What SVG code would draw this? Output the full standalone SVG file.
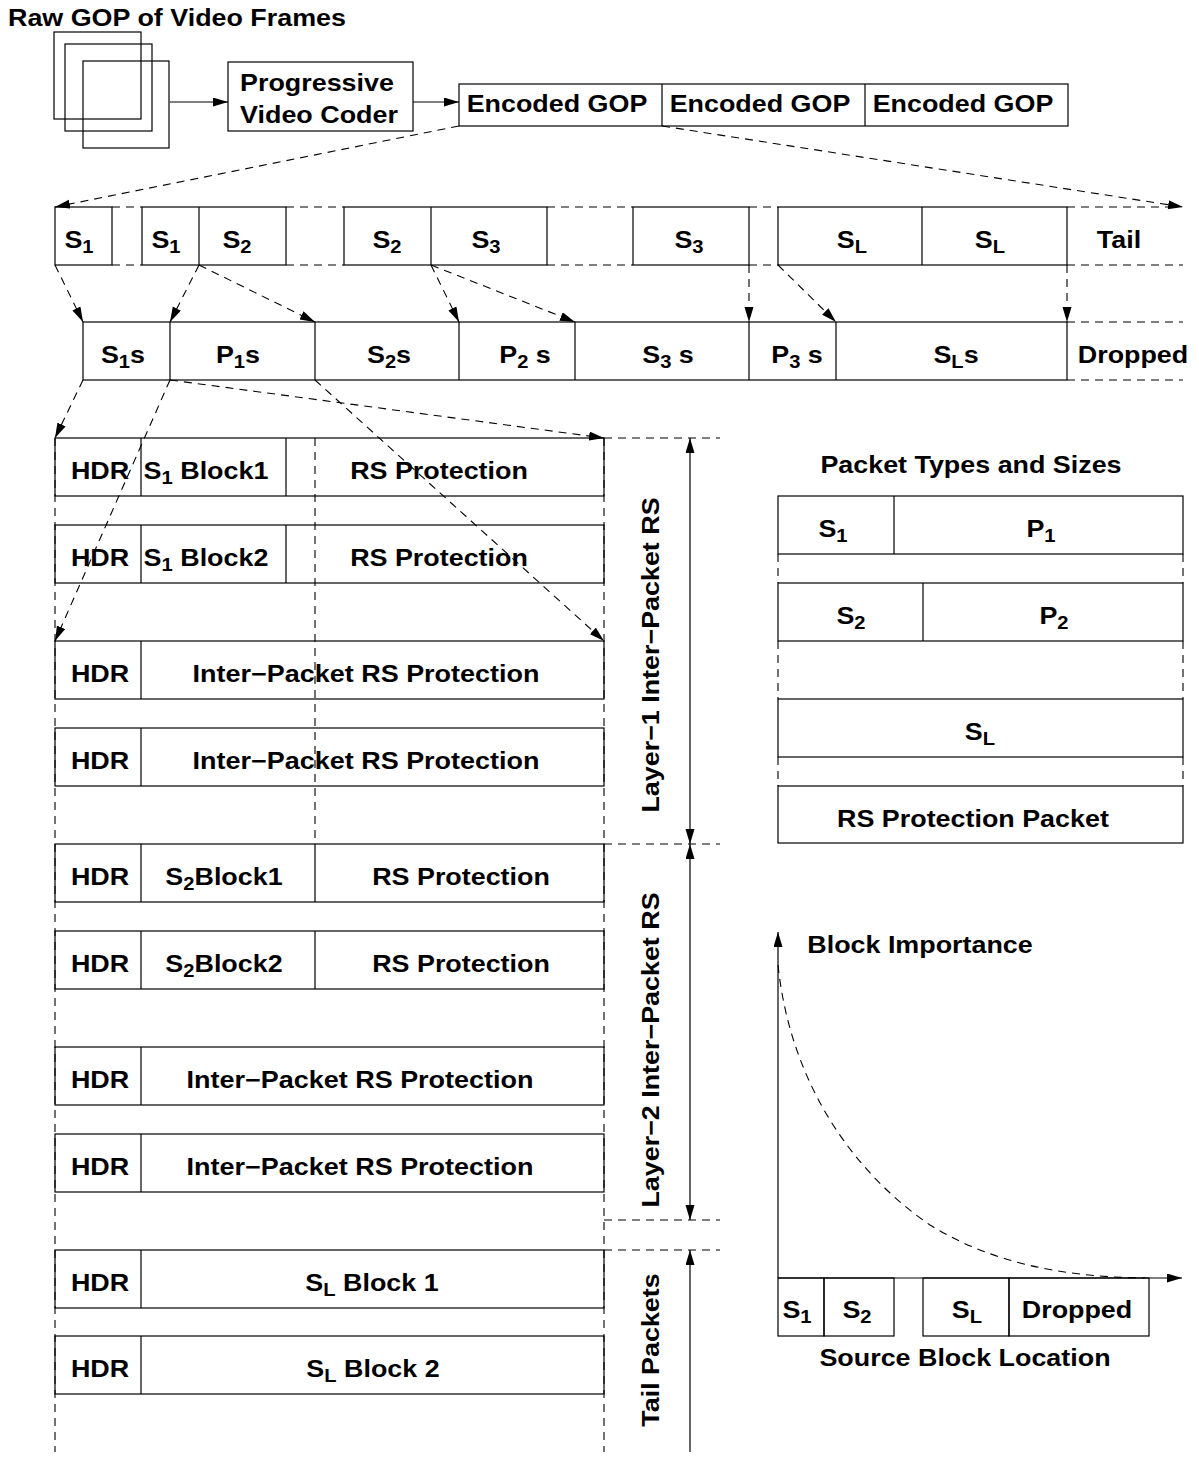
<svg xmlns="http://www.w3.org/2000/svg" width="1199" height="1458" viewBox="0 0 1199 1458">
<style>
.t{font-family:"Liberation Sans",Arial,Helvetica,sans-serif;font-weight:bold;font-size:24px;text-anchor:middle;fill:#000;transform-box:fill-box;transform-origin:center;transform:scaleX(1.12)}
.fit{transform:none}
.sub{font-size:18px}
.box{fill:none;stroke:#000;stroke-width:1.2}
.ln{fill:none;stroke:#000;stroke-width:1.2}
.dash{fill:none;stroke:#000;stroke-width:1.1;stroke-dasharray:8 6}
.arr{marker-end:url(#ah)}
.arr2{marker-start:url(#ah);marker-end:url(#ah)}
</style>
<defs>
<marker id="ah" markerWidth="16" markerHeight="10" refX="15" refY="4.5" orient="auto-start-reverse" markerUnits="userSpaceOnUse">
<path d="M0,0 L15,4.5 L0,9 z" fill="#000"/>
</marker>
</defs>
<rect width="1199" height="1458" fill="#fff"/>

<g id="raw-gop">
<text class="t" x="177" y="26">Raw GOP of Video Frames</text>
<rect class="box" x="54" y="32" width="87" height="87"/>
<rect class="box" x="65" y="44" width="87" height="87"/>
<rect class="box" x="83" y="61" width="86" height="87"/>
</g>

<g id="coder">
<rect class="box" x="228" y="62" width="185" height="69"/>
<text class="t" x="317" y="91">Progressive</text>
<text class="t" x="319" y="123">Video Coder</text>
</g>

<g id="encoded-gops">
<rect class="box" x="459" y="84" width="609" height="42"/>
<path class="ln" d="M662,84V126M865,84V126"/>
<text class="t" x="557" y="112">Encoded GOP</text>
<text class="t" x="760" y="112">Encoded GOP</text>
<text class="t" x="963" y="112">Encoded GOP</text>
</g>

<g id="row1">
<rect class="box" x="55" y="207" width="57" height="58"/>
<rect class="box" x="142" y="207" width="144" height="58"/>
<rect class="box" x="344" y="207" width="203" height="58"/>
<rect class="box" x="633" y="207" width="116" height="58"/>
<rect class="box" x="778" y="207" width="289" height="58"/>
<path class="ln" d="M199,207V265M431,207V265M922,207V265"/>
<path class="dash" d="M112,207H142M112,265H142M286,207H344M286,265H344M547,207H633M547,265H633M749,207H778M749,265H778M1067,207H1170M1067,265H1183"/>
<text class="t" x="79" y="248">S<tspan class="sub" dy="5">1</tspan></text>
<text class="t" x="166" y="248">S<tspan class="sub" dy="5">1</tspan></text>
<text class="t" x="237" y="248">S<tspan class="sub" dy="5">2</tspan></text>
<text class="t" x="387" y="248">S<tspan class="sub" dy="5">2</tspan></text>
<text class="t" x="486" y="248">S<tspan class="sub" dy="5">3</tspan></text>
<text class="t" x="689" y="248">S<tspan class="sub" dy="5">3</tspan></text>
<text class="t" x="852" y="248">S<tspan class="sub" dy="5">L</tspan></text>
<text class="t" x="990" y="248">S<tspan class="sub" dy="5">L</tspan></text>
<text class="t" x="1119" y="248">Tail</text>
</g>

<g id="row2">
<rect class="box" x="83" y="322" width="984" height="58"/>
<path class="ln" d="M170,322V380M315,322V380M459,322V380M575,322V380M749,322V380M836,322V380"/>
<path class="dash" d="M1067,322H1183M1067,380H1183"/>
<text class="t" x="123" y="363">S<tspan class="sub" dy="5">1</tspan><tspan dy="-5">s</tspan></text>
<text class="t" x="238" y="363">P<tspan class="sub" dy="5">1</tspan><tspan dy="-5">s</tspan></text>
<text class="t" x="389" y="363">S<tspan class="sub" dy="5">2</tspan><tspan dy="-5">s</tspan></text>
<text class="t" x="525" y="363">P<tspan class="sub" dy="5">2</tspan><tspan dy="-5"> s</tspan></text>
<text class="t" x="668" y="363">S<tspan class="sub" dy="5">3</tspan><tspan dy="-5"> s</tspan></text>
<text class="t" x="797" y="363">P<tspan class="sub" dy="5">3</tspan><tspan dy="-5"> s</tspan></text>
<text class="t" x="956" y="363">S<tspan class="sub" dy="5">L</tspan><tspan dy="-5">s</tspan></text>
<text class="t" x="1133" y="363">Dropped</text>
</g>

<g id="guides">
<path class="dash" d="M55,438V1452M604,438V1452M315,438V844"/>
<path class="dash" d="M604,438H720M604,844H720M604,1220H720M604,1250H720"/>
<path class="dash" d="M778,554V583M1183,554V583M778,641V699M1183,641V699M778,757V786M1183,757V786"/>
</g>

<g id="pkt-1">
<rect class="box" x="55" y="438" width="549" height="58"/>
<path class="ln" d="M141,438V496M286,438V496"/>
<text class="t" x="100" y="479">HDR</text>
<text class="t" x="206" y="479">S<tspan class="sub" dy="5">1</tspan><tspan dy="-5"> Block1</tspan></text>
<text class="t" x="439" y="479">RS Protection</text>
</g>
<g id="pkt-2">
<rect class="box" x="55" y="525" width="549" height="58"/>
<path class="ln" d="M141,525V583M286,525V583"/>
<text class="t" x="100" y="566">HDR</text>
<text class="t" x="206" y="566">S<tspan class="sub" dy="5">1</tspan><tspan dy="-5"> Block2</tspan></text>
<text class="t" x="439" y="566">RS Protection</text>
</g>
<g id="pkt-3">
<rect class="box" x="55" y="641" width="549" height="58"/>
<path class="ln" d="M141,641V699"/>
<text class="t" x="100" y="682">HDR</text>
<text class="t fit" x="366" y="682" textLength="347" lengthAdjust="spacingAndGlyphs">Inter−Packet RS Protection</text>
</g>
<g id="pkt-4">
<rect class="box" x="55" y="728" width="549" height="58"/>
<path class="ln" d="M141,728V786"/>
<text class="t" x="100" y="769">HDR</text>
<text class="t fit" x="366" y="769" textLength="347" lengthAdjust="spacingAndGlyphs">Inter−Packet RS Protection</text>
</g>
<g id="pkt-5">
<rect class="box" x="55" y="844" width="549" height="58"/>
<path class="ln" d="M141,844V902M315,844V902"/>
<text class="t" x="100" y="885">HDR</text>
<text class="t" x="224" y="885">S<tspan class="sub" dy="5">2</tspan><tspan dy="-5">Block1</tspan></text>
<text class="t" x="461" y="885">RS Protection</text>
</g>
<g id="pkt-6">
<rect class="box" x="55" y="931" width="549" height="58"/>
<path class="ln" d="M141,931V989M315,931V989"/>
<text class="t" x="100" y="972">HDR</text>
<text class="t" x="224" y="972">S<tspan class="sub" dy="5">2</tspan><tspan dy="-5">Block2</tspan></text>
<text class="t" x="461" y="972">RS Protection</text>
</g>
<g id="pkt-7">
<rect class="box" x="55" y="1047" width="549" height="58"/>
<path class="ln" d="M141,1047V1105"/>
<text class="t" x="100" y="1088">HDR</text>
<text class="t fit" x="360" y="1088" textLength="347" lengthAdjust="spacingAndGlyphs">Inter−Packet RS Protection</text>
</g>
<g id="pkt-8">
<rect class="box" x="55" y="1134" width="549" height="58"/>
<path class="ln" d="M141,1134V1192"/>
<text class="t" x="100" y="1175">HDR</text>
<text class="t fit" x="360" y="1175" textLength="347" lengthAdjust="spacingAndGlyphs">Inter−Packet RS Protection</text>
</g>
<g id="pkt-9">
<rect class="box" x="55" y="1250" width="549" height="58"/>
<path class="ln" d="M141,1250V1308"/>
<text class="t" x="100" y="1291">HDR</text>
<text class="t" x="372" y="1291">S<tspan class="sub" dy="5">L</tspan><tspan dy="-5"> Block 1</tspan></text>
</g>
<g id="pkt-10">
<rect class="box" x="55" y="1336" width="549" height="58"/>
<path class="ln" d="M141,1336V1394"/>
<text class="t" x="100" y="1377">HDR</text>
<text class="t" x="373" y="1377">S<tspan class="sub" dy="5">L</tspan><tspan dy="-5"> Block 2</tspan></text>
</g>

<g id="layer-labels">
<g transform="translate(659,655) rotate(-90)"><text class="t" x="0" y="0">Layer−1 Inter−Packet RS</text></g>
<g transform="translate(659,1050) rotate(-90)"><text class="t" x="0" y="0">Layer−2 Inter−Packet RS</text></g>
<g transform="translate(659,1350) rotate(-90)"><text class="t" x="0" y="0">Tail Packets</text></g>
</g>

<g id="packet-types">
<text class="t" x="971" y="473">Packet Types and Sizes</text>
<rect class="box" x="778" y="496" width="405" height="58"/>
<path class="ln" d="M894,496V554"/>
<text class="t" x="833" y="537">S<tspan class="sub" dy="5">1</tspan></text>
<text class="t" x="1041" y="537">P<tspan class="sub" dy="5">1</tspan></text>
<rect class="box" x="778" y="583" width="405" height="58"/>
<path class="ln" d="M923,583V641"/>
<text class="t" x="851" y="624">S<tspan class="sub" dy="5">2</tspan></text>
<text class="t" x="1054" y="624">P<tspan class="sub" dy="5">2</tspan></text>
<rect class="box" x="778" y="699" width="405" height="58"/>
<text class="t" x="980" y="740">S<tspan class="sub" dy="5">L</tspan></text>
<rect class="box" x="778" y="786" width="405" height="57"/>
<text class="t" x="973" y="827">RS Protection Packet</text>
</g>

<g id="importance-graph">
<path class="ln arr" d="M778,1278V932"/>
<path class="ln arr" d="M778,1278H1182"/>
<text class="t" x="920" y="953">Block Importance</text>
<path class="dash" stroke-width="1" d="M778,965 C790,1080 850,1170 930,1225 C990,1262 1060,1277 1145,1278"/>
<rect class="box" x="778" y="1278" width="46" height="58"/>
<rect class="box" x="824" y="1278" width="70" height="58"/>
<rect class="box" x="923" y="1278" width="86" height="58"/>
<rect class="box" x="1009" y="1278" width="140" height="58"/>
<text class="t" x="797" y="1318">S<tspan class="sub" dy="5">1</tspan></text>
<text class="t" x="857" y="1318">S<tspan class="sub" dy="5">2</tspan></text>
<text class="t" x="967" y="1318">S<tspan class="sub" dy="5">L</tspan></text>
<text class="t" x="1077" y="1318">Dropped</text>
<text class="t" x="965" y="1366">Source Block Location</text>
</g>

<g id="connectors">
<path class="ln arr" d="M170,102H228"/>
<path class="ln arr" d="M413,102H459"/>
<path class="dash arr" d="M459,126L55,207"/>
<path class="dash arr" d="M662,126L1183,207"/>
<path class="dash arr" d="M55,265L83,322"/>
<path class="dash arr" d="M199,265L170,322"/>
<path class="dash arr" d="M199,265L315,322"/>
<path class="dash arr" d="M431,265L459,322"/>
<path class="dash arr" d="M431,265L575,322"/>
<path class="dash arr" d="M749,265L749,322"/>
<path class="dash arr" d="M778,265L836,322"/>
<path class="dash arr" d="M1067,265L1067,322"/>
<path class="dash arr" d="M83,380L55,438"/>
<path class="dash arr" d="M170,380L55,641"/>
<path class="dash arr" d="M170,380L604,438"/>
<path class="dash arr" d="M315,380L604,641"/>
<path class="ln arr2" d="M690,438V844"/>
<path class="ln arr2" d="M690,844V1220"/>
<path class="ln arr" d="M690,1452V1250"/>
</g>
</svg>
